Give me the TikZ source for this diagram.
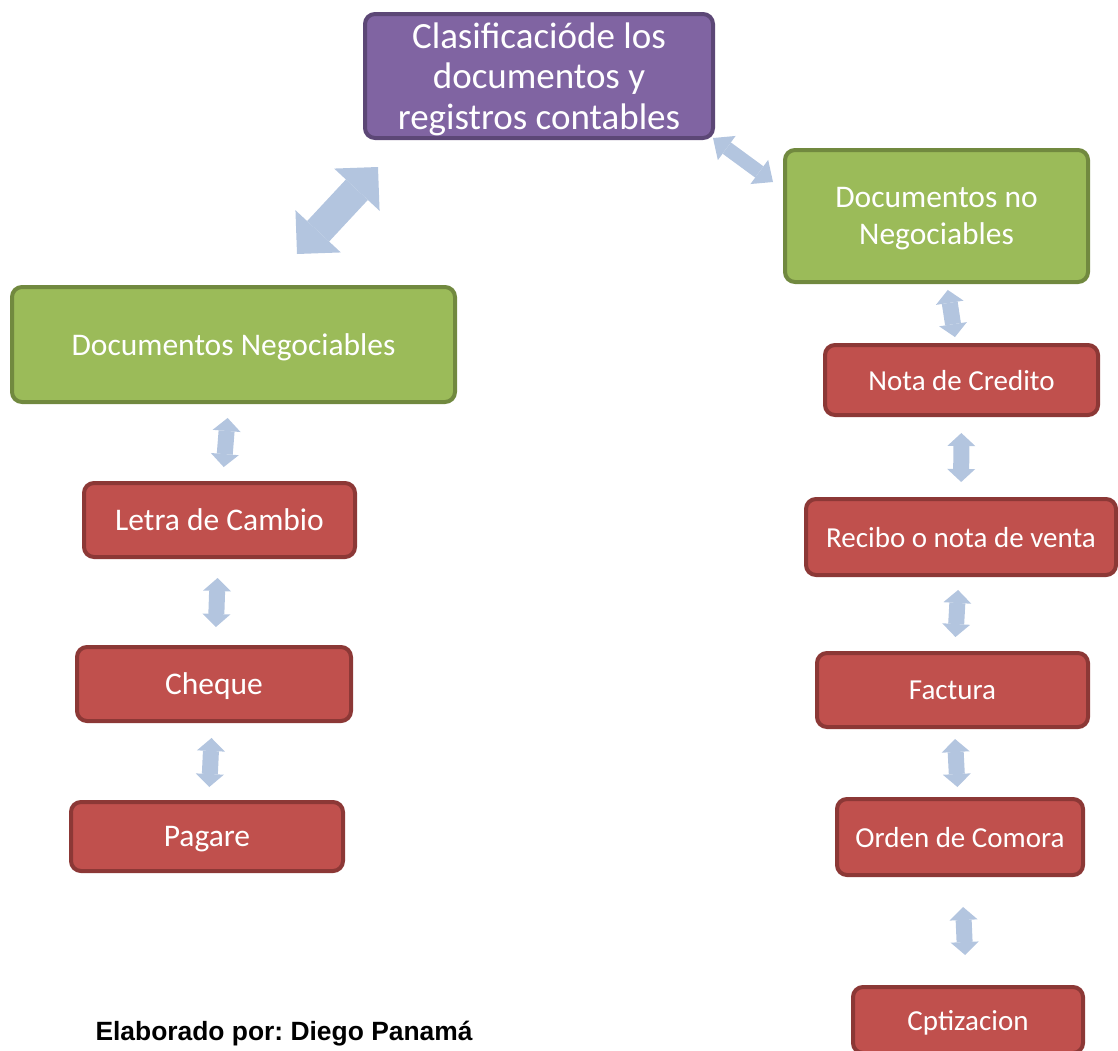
\documentclass[tikz,border=0pt]{standalone}
\usepackage{fontspec}
\setmainfont{Carlito}
\newfontfamily\footfont{Liberation Sans}
\usepackage{tikz}
\usetikzlibrary{arrows.meta}
\usepackage{color}
\frenchspacing

\definecolor{purpfill}{HTML}{8064A2}
\definecolor{purpline}{HTML}{5C4776}
\definecolor{greenfill}{HTML}{9BBB59}
\definecolor{greenline}{HTML}{71893F}
\definecolor{redfill}{HTML}{C0504D}
\definecolor{redline}{HTML}{8C3836}
\definecolor{linkblue}{HTML}{B3C5DF}

\begin{document}
\begin{tikzpicture}[x=1pt, y=-1pt,
		box/.style={rectangle, rounded corners=10pt, line width=4pt, inner sep=0pt, text depth=0pt, text=white, align=center},
		titlebox/.style={box, fill=purpfill, draw=purpline, font=\fontsize{37}{40.5}\selectfont},
		greenbox/.style={box, fill=greenfill, draw=greenline, font=\fontsize{31.5}{37}\selectfont},
		redbox/.style={box, fill=redfill, draw=redline, font=\fontsize{#1}{36}\selectfont},
		link/.style n args={3}{draw=linkblue, line width=#1,
			arrows={Triangle[width=#2,length=#3,line width=0pt]-Triangle[width=#2,length=#3,line width=0pt]}}]
	
	\useasboundingbox (0,0) rectangle (1118,1050);
	\clip (0,0) rectangle (1118,1050);
	
	% top of the scheme
	\node [titlebox, minimum width=348pt, minimum height=124pt] (clasif) at (539,76) {Clasificacióde los\\documentos y\\registros contables};
	\node [greenbox, minimum width=443pt, minimum height=115pt] (neg) at (233.5,344.5) {Documentos Negociables};
	\node [greenbox, minimum width=303pt, minimum height=132pt] (noneg) at (936.5,216) {Documentos no\\Negociables};
	
	% left column
	\node [redbox=31.5, minimum width=271pt, minimum height=74pt] (letra) at (219.5,520) {Letra de Cambio};
	\node [redbox=31.5, minimum width=274pt, minimum height=74pt] (cheque) at (214,684) {Cheque};
	\node [redbox=31.5, minimum width=272pt, minimum height=69pt] (pagare) at (207,836.5) {Pagare};
	
	% right column
	\node [redbox=29, minimum width=273pt, minimum height=70pt] (nota) at (961.5,380) {Nota de Credito};
	\node [redbox=29, minimum width=310pt, minimum height=76pt] (recibo) at (961,537) {Recibo o nota de venta};
	\node [redbox=29, minimum width=271pt, minimum height=74pt] (factura) at (952.5,690) {Factura};
	\node [redbox=29, minimum width=246pt, minimum height=76pt] (orden) at (960,837) {Orden de Comora};
	\node [redbox=29, minimum width=230pt, minimum height=66pt] (cotiz) at (968,1020) {Cptizacion};
	
	\node [font=\footfont\bfseries\fontsize{26.4}{30}\selectfont] (autor) at (284,1034) {Elaborado por: Diego Panamá};
	
	% links
	\draw [link={30pt}{62pt}{31pt}] ([shift={(15,27)}]clasif.south west) -- ([shift={(287,-31)}]neg.north west);
	\draw [link={14pt}{30pt}{17pt}] ([shift={(-2,-2)}]clasif.south east) -- ([shift={(-10,34)}]noneg.north west);
	
	\draw [link={16pt}{28pt}{13pt}, shorten <=14pt, shorten >=14pt] (neg) -- (letra);
	\draw [link={16pt}{28pt}{13pt}, shorten <=19pt, shorten >=18pt] (letra) -- (cheque);
	\draw [link={16pt}{28pt}{13pt}, shorten <=15pt, shorten >=13pt] (cheque) -- (pagare);
	
	\draw [link={16pt}{28pt}{13pt}, shorten <=6pt, shorten >=6pt] (noneg) -- (nota);
	\draw [link={16pt}{28pt}{13pt}, shorten <=16pt, shorten >=15pt] (nota) -- (recibo);
	\draw [link={16pt}{28pt}{13pt}, shorten <=13pt, shorten >=14pt] (recibo) -- (factura);
	\draw [link={16pt}{28pt}{13pt}, shorten <=10pt, shorten >=10pt] (factura) -- (orden);
	\draw [link={16pt}{28pt}{13pt}, shorten <=30pt, shorten >=30pt] (orden) -- (cotiz);
	
\end{tikzpicture}
\end{document}
